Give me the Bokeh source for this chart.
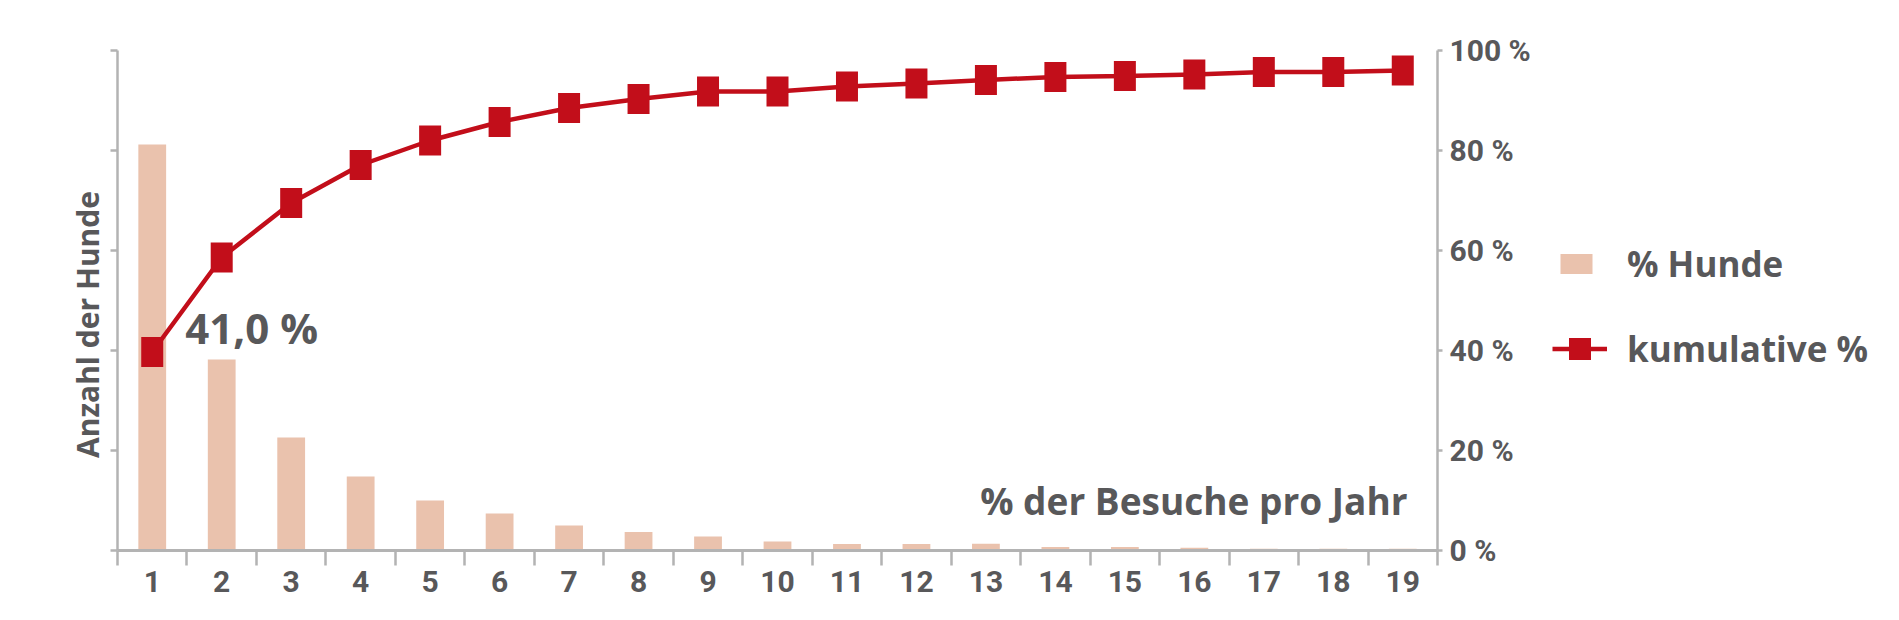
from bokeh.plotting import figure
from bokeh.layouts import row
from bokeh.models import (Range1d, LinearAxis, FixedTicker, Label, Legend, LegendItem,
                          ColumnDataSource)
from bokeh.embed import file_html
from bokeh.resources import INLINE

# ---- data ----
visits = list(range(1, 20))
visit_labels = [str(v) for v in visits]
hunde = [40.6, 19.1, 11.3, 7.4, 5.0, 3.7, 2.5, 1.85, 1.4, 0.9,
         0.65, 0.65, 0.67, 0.35, 0.35, 0.28, 0.17, 0.17, 0.17]
kumulativ = [39.7, 58.6, 69.5, 77.1, 82.0, 85.7, 88.5, 90.3, 91.8, 91.8,
             92.8, 93.4, 94.1, 94.7, 94.9, 95.2, 95.7, 95.7, 96.0]
pct_ticks = [0, 20, 40, 60, 80, 100]
pct_labels = ["0 %", "20 %", "40 %", "60 %", "80 %", "100 %"]
left_ticks = [0, 10, 20, 30, 40, 50]
first_label = "41,0 %"
series_names = ["% Hunde", "kumulative %"]
x_title = "% der Besuche pro Jahr"
y_title = "Anzahl der Hunde"

BAR = "#eac2ad"
RED = "#c20e1a"
GRAY = "#b3b3b3"
TXT = "#58585a"
FONT = "Open Sans"
TICKFONT = "Roboto"

src = ColumnDataSource(dict(x=visits, hunde=hunde, kum=kumulativ))

H = 612
FRAME_BOTTOM = 550          # canvas y of the shared plot-frame bottom
LEFT_W = 110
MAIN_W = 1430
LEG_W = 343


def bare(width):
    f = figure(width=width, height=H, output_backend="svg", toolbar_location=None,
               x_range=Range1d(0, 1), y_range=Range1d(0, 1),
               x_axis_location=None, y_axis_location=None,
               min_border=0, min_border_left=0, min_border_right=0,
               min_border_top=0, min_border_bottom=0)
    f.outline_line_color = None
    f.xgrid.visible = False
    f.ygrid.visible = False
    return f


# ---- left strip: y title ----
left = bare(LEFT_W)
left.add_layout(Label(x=87, y=FRAME_BOTTOM - 324, x_units="screen", y_units="screen",
                      text=y_title, angle=90, angle_units="deg", text_align="center",
                      text_baseline="middle", text_font=FONT, text_font_style="bold",
                      text_font_size="30px", text_color=TXT))

# ---- main chart ----
p = figure(width=MAIN_W, height=H, output_backend="svg", toolbar_location=None,
           x_range=Range1d(0.5, 19.5), y_range=Range1d(0, 50),
           min_border_left=7, min_border_right=103, min_border_top=50,
           min_border_bottom=H - FRAME_BOTTOM, x_axis_location=None, y_axis_location=None)
p.outline_line_color = None
p.xgrid.visible = False
p.ygrid.visible = False
p.extra_y_ranges = {"pct": Range1d(0, 100)}

xax = LinearAxis(ticker=FixedTicker(ticks=visits, minor_ticks=[v + 0.5 for v in [0] + visits]),
                 major_label_overrides={v: l for v, l in zip(visits, visit_labels)})
xax.axis_line_color = GRAY
xax.axis_line_width = 3
xax.major_tick_out = 0
xax.major_tick_in = 0
xax.minor_tick_out = 15
xax.minor_tick_in = 0
xax.minor_tick_line_color = GRAY
xax.minor_tick_line_width = 2.5
xax.major_label_text_font = TICKFONT
xax.major_label_text_font_style = "bold"
xax.major_label_text_font_size = "30px"
xax.major_label_text_color = TXT
xax.major_label_standoff = 5
p.add_layout(xax, "below")

lax = LinearAxis(ticker=FixedTicker(ticks=left_ticks),
                 major_label_overrides={t: "" for t in left_ticks})
lax.axis_line_color = GRAY
lax.axis_line_width = 2.5
lax.major_tick_out = 7
lax.major_tick_in = 0
lax.major_tick_line_color = GRAY
lax.major_tick_line_width = 2.5
lax.minor_tick_line_color = None
lax.major_label_text_alpha = 0
lax.major_label_text_font_size = "1px"
lax.major_label_standoff = 0
p.add_layout(lax, "left")

rax = LinearAxis(y_range_name="pct", ticker=FixedTicker(ticks=pct_ticks),
                 major_label_overrides={t: l for t, l in zip(pct_ticks, pct_labels)})
rax.axis_line_color = GRAY
rax.axis_line_width = 2.5
rax.major_tick_out = 5
rax.major_tick_in = 0
rax.major_tick_line_color = GRAY
rax.major_tick_line_width = 2.5
rax.minor_tick_line_color = None
rax.major_label_text_font = TICKFONT
rax.major_label_text_font_style = "bold"
rax.major_label_text_font_size = "30px"
rax.major_label_text_color = TXT
rax.major_label_standoff = 7
p.add_layout(rax, "right")

p.vbar(x="x", top="hunde", width=0.4, source=src, fill_color=BAR, line_color=None)
p.line(x="x", y="kum", source=src, line_color=RED, line_width=4.5, y_range_name="pct")
p.rect(x="x", y="kum", width=22, height=30, width_units="screen", height_units="screen",
       source=src, fill_color=RED, line_color=None, y_range_name="pct")

p.add_layout(Label(x=visits[0], y=kumulativ[0], y_range_name="pct", x_offset=33, y_offset=25,
                   text=first_label, text_font=FONT, text_font_style="bold",
                   text_font_size="42px", text_color=TXT, text_baseline="alphabetic"))
p.add_layout(Label(x=1290, y=50, x_units="screen", y_units="screen", text=x_title,
                   text_align="right", text_baseline="alphabetic", text_font=FONT,
                   text_font_style="bold", text_font_size="37px", text_color=TXT))

# ---- legend strip ----
lg = bare(LEG_W)
lg.x_range = Range1d(0.5, 19.5)
lg.y_range = Range1d(0, 50)
lg.extra_y_ranges = {"pct": Range1d(0, 100)}
lbars = lg.vbar(x="x", top="hunde", width=0.4, source=src, fill_color=BAR, line_color=None,
                visible=False)
lline = lg.line(x="x", y="kum", source=src, line_color=RED, line_width=4.5,
                y_range_name="pct", visible=False)
lmark = lg.scatter(x="x", y="kum", source=src, marker="square", size=22, fill_color=RED,
                   line_color=None, y_range_name="pct", visible=False)


def style_legend(leg):
    leg.background_fill_alpha = 0
    leg.border_line_color = None
    leg.padding = 0
    leg.margin = 0
    leg.spacing = 0
    leg.label_text_font = FONT
    leg.label_text_font_style = "bold"
    leg.label_text_font_size = "35px"
    leg.label_text_color = TXT
    leg.inactive_fill_alpha = 0


leg1 = Legend(items=[LegendItem(label=series_names[0], renderers=[lbars])],
              location=(16, FRAME_BOTTOM - 287), glyph_width=40, glyph_height=25,
              label_standoff=31)
style_legend(leg1)
leg2 = Legend(items=[LegendItem(label=series_names[1], renderers=[lline, lmark])],
              location=(12, FRAME_BOTTOM - 376), glyph_width=55, glyph_height=55,
              label_standoff=20)
style_legend(leg2)
lg.add_layout(leg1, "center")
lg.add_layout(leg2, "center")

layout = row(left, p, lg, spacing=0)
open("out.html", "w").write(file_html(layout, INLINE))
